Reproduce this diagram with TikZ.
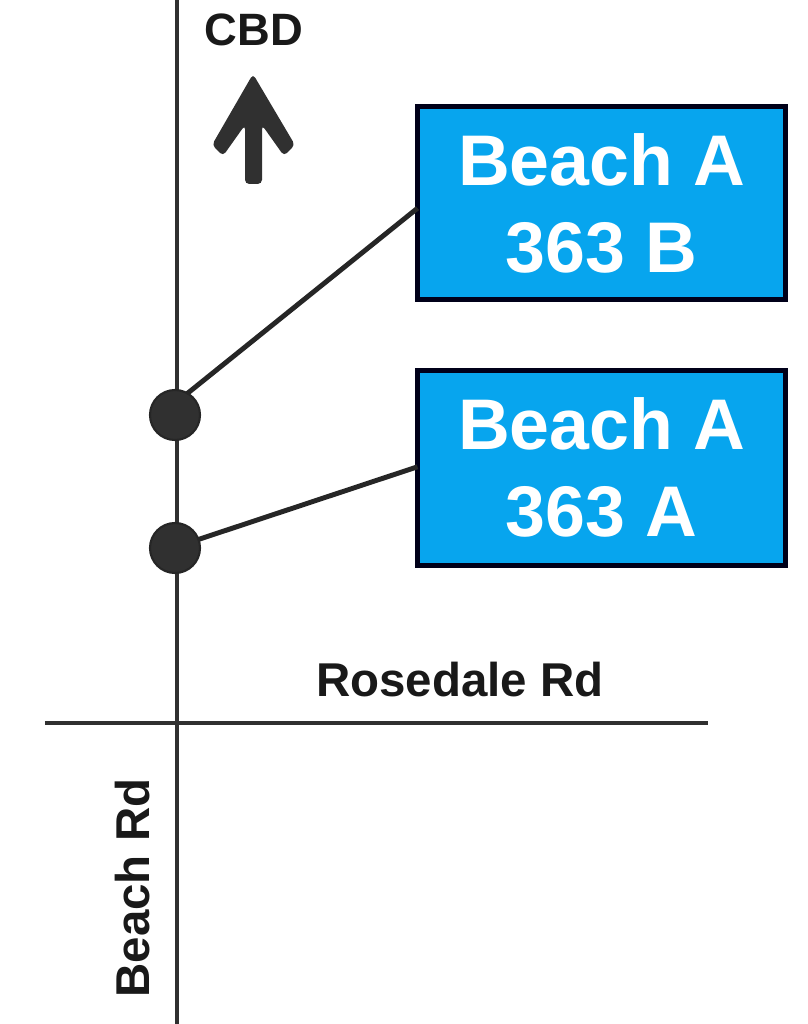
\documentclass[tikz,border=0pt]{standalone}
\usepackage{fontspec}
\setmainfont{Liberation Sans}
\usetikzlibrary{calc}
\definecolor{signblue}{HTML}{07A5EE}
\definecolor{roadgrey}{HTML}{303030}
\tikzset{
  road/.style={draw=roadgrey, line width=1.3pt},
  signbox/.style={draw=black!90!blue, line width=1.4pt, fill=signblue, text=white, outer sep=0pt,
    minimum width=3.68cm, align=center, font=\fontsize{20.4}{24.7}\selectfont\bfseries},
  stopdot/.style={circle, draw=black!85, fill=roadgrey, line width=.6pt, inner sep=0pt, minimum size=.5cm, outer sep=0pt},
  roadlabel/.style={font=\fontsize{13.5}{15}\selectfont\bfseries, text=black!90, inner sep=0pt},
  stem/.style={draw=black!85, line width=1.4pt}
}
\begin{document}
\begin{tikzpicture}
 \useasboundingbox (0,0) rectangle (8.08,10.24);

 % roads
 \coordinate (beachtop) at (1.77,10.24);
 \coordinate (beachend) at (1.77,0);
 \coordinate (rosewest) at (.45,3.01);
 \coordinate (roseeast) at (7.08,3.01);
 \draw [road] (beachtop) -- (beachend);
 \draw [road] (rosewest) -- (roseeast);

 % signs
 \node [signbox, minimum height=1.925cm] (signb) at (6.015,8.208) {Beach A\\363 B};
 \node [signbox, minimum height=1.945cm] (signa) at (6.015,5.562) {Beach A\\363 A};

 % stops
 \node [stopdot] (stopb) at (1.75,6.09) {};
 \node [stopdot] (stopa) at (1.75,4.76) {};
 \draw [stem] (stopb.60) -- ($(signb.west)+(0,-.05)$);
 \draw [stem] (stopa.20) -- ($(signa.west)+(0,.01)$);

 % north arrow
 \fill [roadgrey, rounded corners=1.2pt] (2.53,9.50) -- (2.95,8.79) -- (2.84,8.68) -- (2.62,8.99)
   -- (2.62,8.40) -- (2.45,8.40) -- (2.45,8.99) -- (2.23,8.68) -- (2.12,8.79) -- cycle;

 % labels
 \node [roadlabel, font=\fontsize{12.9}{15}\selectfont\bfseries] (cbd) at (2.54,9.94) {CBD};
 \node [roadlabel] (rosename) at (4.60,3.44) {Rosedale Rd};
 \node [roadlabel, rotate=90] (beachname) at (1.33,1.36) {Beach Rd};
\end{tikzpicture}
\end{document}
